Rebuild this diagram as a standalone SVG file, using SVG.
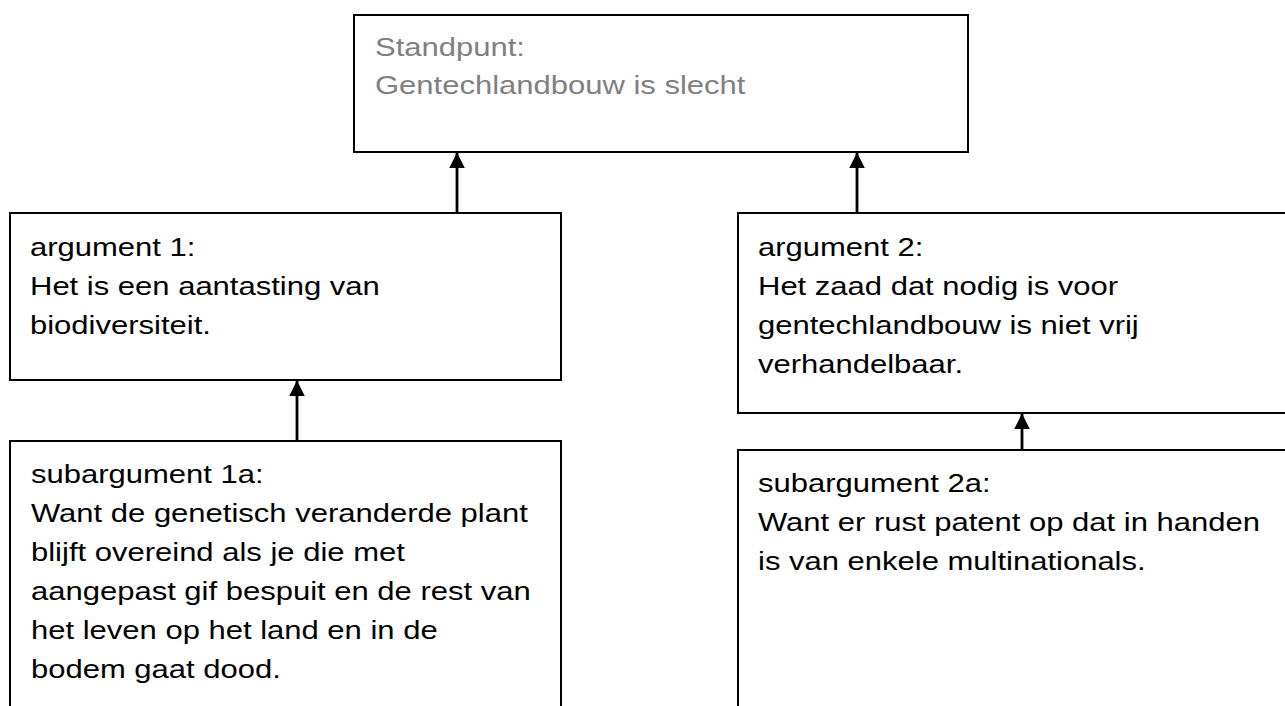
<svg xmlns="http://www.w3.org/2000/svg" width="1285" height="706" viewBox="0 0 1285 706">
  <style>
    .box { fill: #ffffff; stroke: #000000; stroke-width: 2; }
    .txt { font-family: "Liberation Sans", Arial, sans-serif; font-size: 26.5px; fill: #000000; }
    .gray { fill: #808080; }
    .conn { stroke: #000000; stroke-width: 2.8; fill: none; }
  </style>
  <defs>
    <marker id="arrow" markerUnits="userSpaceOnUse" markerWidth="16" markerHeight="16" viewBox="0 0 15 15" refX="14.5" refY="7.5" orient="auto">
      <path d="M0,0 L15,7.5 L0,15 z" fill="#000000"/>
    </marker>
  </defs>
  <rect x="0" y="0" width="1285" height="706" fill="#ffffff"/>

  <g id="standpunt">
    <rect class="box" x="354" y="15" width="614" height="137"/>
    <text class="txt gray" transform="matrix(1.17 0 0 1 375 0)">
      <tspan x="0" y="56">Standpunt:</tspan>
      <tspan x="0" y="94">Gentechlandbouw is slecht</tspan>
    </text>
  </g>

  <g id="argument1">
    <rect class="box" x="10" y="213" width="551" height="167"/>
    <text class="txt" transform="matrix(1.17 0 0 1 30 0)">
      <tspan x="0" y="256">argument 1:</tspan>
      <tspan x="0" y="295">Het is een aantasting van</tspan>
      <tspan x="0" y="334">biodiversiteit.</tspan>
    </text>
  </g>

  <g id="argument2">
    <rect class="box" x="738" y="213" width="560" height="200"/>
    <text class="txt" transform="matrix(1.17 0 0 1 758 0)">
      <tspan x="0" y="256">argument 2:</tspan>
      <tspan x="0" y="295">Het zaad dat nodig is voor</tspan>
      <tspan x="0" y="334">gentechlandbouw is niet vrij</tspan>
      <tspan x="0" y="373">verhandelbaar.</tspan>
    </text>
  </g>

  <g id="subargument1a">
    <rect class="box" x="10" y="441" width="551" height="290"/>
    <text class="txt" transform="matrix(1.17 0 0 1 31 0)">
      <tspan x="0" y="483">subargument 1a:</tspan>
      <tspan x="0" y="522">Want de genetisch veranderde plant</tspan>
      <tspan x="0" y="561">blijft overeind als je die met</tspan>
      <tspan x="0" y="600">aangepast gif bespuit en de rest van</tspan>
      <tspan x="0" y="639">het leven op het land en in de</tspan>
      <tspan x="0" y="678">bodem gaat dood.</tspan>
    </text>
  </g>

  <g id="subargument2a">
    <rect class="box" x="738" y="450" width="560" height="290"/>
    <text class="txt" transform="matrix(1.17 0 0 1 758 0)">
      <tspan x="0" y="492">subargument 2a:</tspan>
      <tspan x="0" y="531">Want er rust patent op dat in handen</tspan>
      <tspan x="0" y="570">is van enkele multinationals.</tspan>
    </text>
  </g>

  <g id="connectors">
    <line class="conn" x1="457" y1="213" x2="457" y2="153" marker-end="url(#arrow)"/>
    <line class="conn" x1="857" y1="213" x2="857" y2="153" marker-end="url(#arrow)"/>
    <line class="conn" x1="297" y1="441" x2="297" y2="381" marker-end="url(#arrow)"/>
    <line class="conn" x1="1022" y1="450" x2="1022" y2="414" marker-end="url(#arrow)"/>
  </g>
</svg>
